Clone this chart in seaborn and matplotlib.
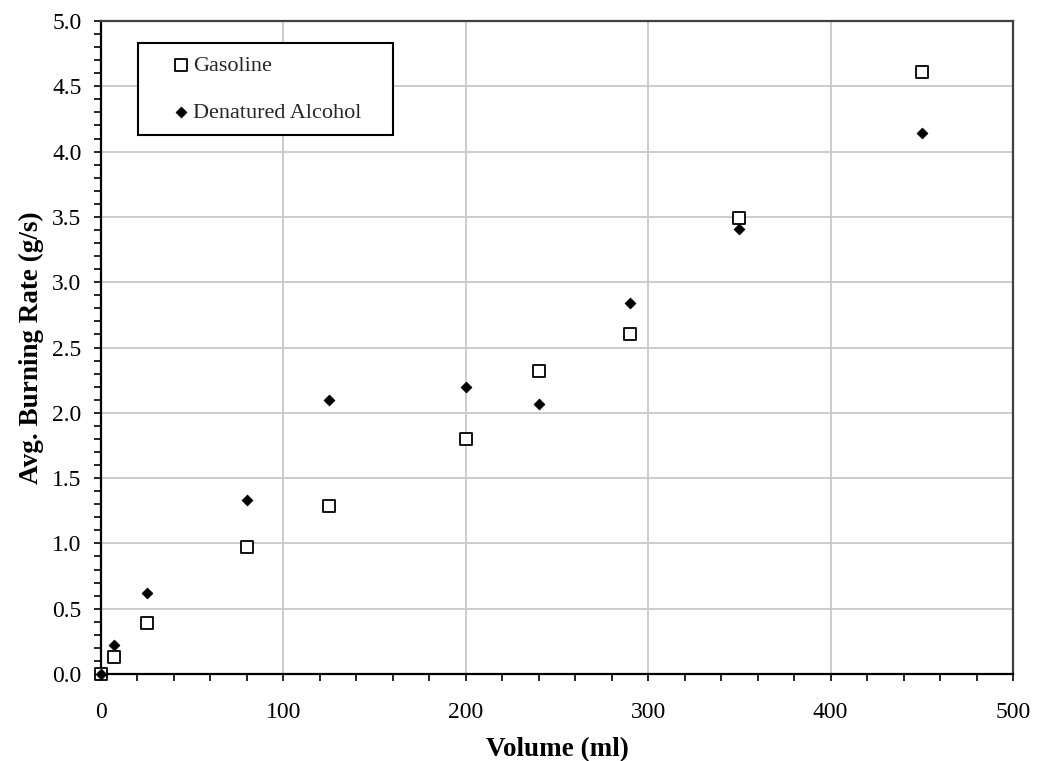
import matplotlib
matplotlib.use("Agg")
import matplotlib.pyplot as plt
from matplotlib.ticker import MultipleLocator, FormatStrFormatter
import seaborn as sns
import pandas as pd

volume_ml = [0, 7, 25, 80, 125, 200, 240, 290, 350, 450]
gasoline = [0.00, 0.13, 0.39, 0.97, 1.29, 1.80, 2.32, 2.60, 3.49, 4.61]
alcohol = [0.00, 0.22, 0.62, 1.33, 2.10, 2.20, 2.07, 2.84, 3.41, 4.14]
series_names = ["Gasoline", "Denatured Alcohol"]

df = pd.DataFrame({
    "Volume (ml)": volume_ml * 2,
    "Rate": gasoline + alcohol,
    "Fuel": [series_names[0]] * len(volume_ml) + [series_names[1]] * len(volume_ml),
})

sns.set_theme(style="white")
plt.rcParams["font.family"] = ["Liberation Serif", "DejaVu Serif"]

fig = plt.figure(figsize=(10.43, 7.61), dpi=100)
ax = fig.add_axes([0.0968, 0.1143, 0.8745, 0.8581])

ax.grid(True, color="#c8c8c8", linewidth=1.3, zorder=0)
ax.set_axisbelow(True)

g = df[df["Fuel"] == series_names[0]]
a = df[df["Fuel"] == series_names[1]]
sns.scatterplot(data=g, x="Volume (ml)", y="Rate", ax=ax, marker="s", s=85,
                facecolor="white", edgecolor="black", linewidth=1.3,
                label=series_names[0], zorder=3, clip_on=False)
sns.scatterplot(data=a, x="Volume (ml)", y="Rate", ax=ax, marker="D", s=30,
                color="black", edgecolor="black", linewidth=0.6,
                label=series_names[1], zorder=4, clip_on=False)

ax.set_xlim(0, 500)
ax.set_ylim(0, 5.0)
ax.xaxis.set_major_locator(MultipleLocator(100))
ax.xaxis.set_minor_locator(MultipleLocator(20))
ax.yaxis.set_major_locator(MultipleLocator(0.5))
ax.yaxis.set_minor_locator(MultipleLocator(0.1))
ax.yaxis.set_major_formatter(FormatStrFormatter("%.1f"))

ax.tick_params(which="both", direction="out", length=5, width=1.2, color="black",
               bottom=True, left=True, top=False, right=False)
ax.tick_params(which="major", labelsize=17, labelcolor="black")
ax.tick_params(axis="y", which="major", pad=9)
ax.tick_params(axis="x", which="major", pad=15)

for side in ["left", "bottom"]:
    ax.spines[side].set_color("black")
    ax.spines[side].set_linewidth(1.6)
for side in ["top", "right"]:
    ax.spines[side].set_color("#404040")
    ax.spines[side].set_linewidth(1.6)

ax.set_xlabel("Volume (ml)", fontsize=19.5, fontweight="bold", color="black", labelpad=10)
ax.set_ylabel("Avg. Burning Rate (g/s)", fontsize=19.5, fontweight="bold", color="black", labelpad=6)

leg = ax.legend(loc="upper left", bbox_to_anchor=(0.0406, 0.828, 0.2796, 0.138),
                mode="expand", frameon=True, fancybox=False, shadow=False,
                fontsize=16, labelspacing=1.2, handletextpad=-0.87, borderpad=0.53,
                handlelength=2.82, borderaxespad=0)
leg.get_frame().set_edgecolor("black")
leg.get_frame().set_linewidth(1.5)
leg.get_frame().set_alpha(1)

fig.savefig("out.png", dpi=100)
